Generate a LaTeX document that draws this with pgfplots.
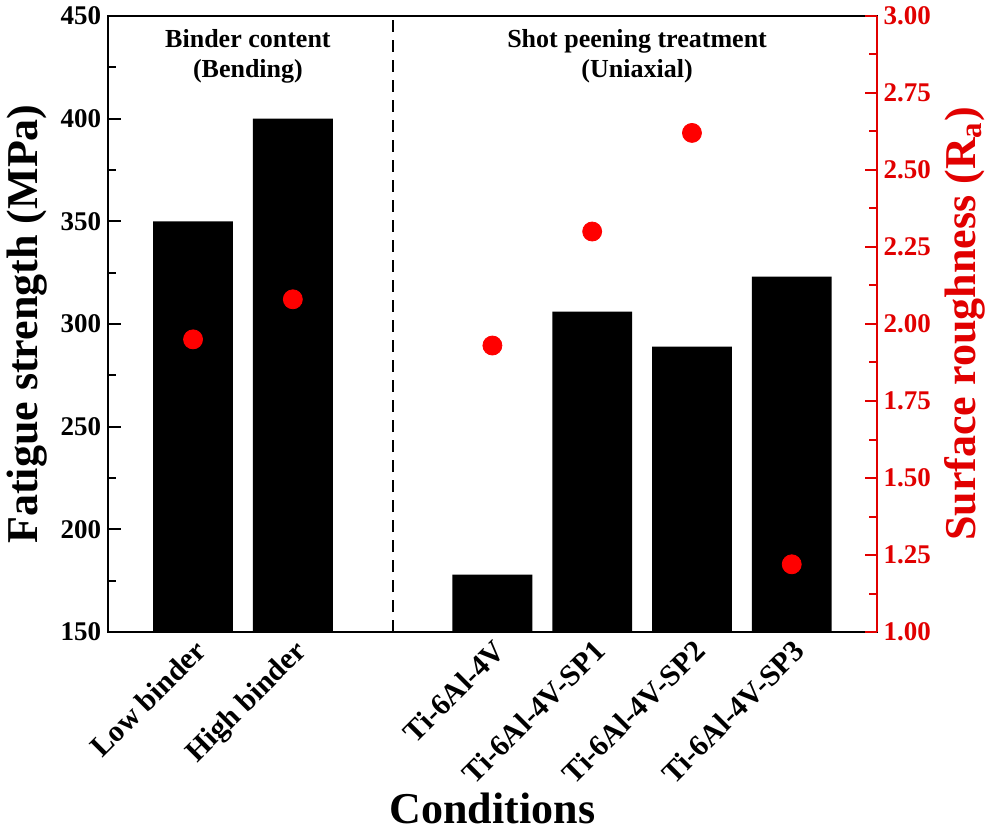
\documentclass[border=0pt]{standalone}
\usepackage{pgfplots}
\pgfplotsset{compat=1.18}
\usepackage{fontspec}
\setmainfont{Liberation Serif}
\definecolor{rd}{RGB}{225,0,0}
\begin{document}
\begin{tikzpicture}
\begin{axis}[
  scale only axis, width=384pt, height=308pt,
  xmin=-0.85, xmax=6.85, ymin=150, ymax=450,
  ytick={150,200,...,450}, minor y tick num=1, ytick pos=left,
  tick align=inside, major tick length=6.5pt, minor tick length=4pt,
  xtick={0,1,3,4,5,6},
  xticklabels={Low binder, High binder, Ti-6Al-4V, Ti-6Al-4V-SP1, Ti-6Al-4V-SP2, Ti-6Al-4V-SP3},
  x tick style={draw=none},
  xticklabel style={rotate=45, anchor=north east, font=\bfseries\fontsize{15}{16}\selectfont, inner sep=2pt},
  yticklabel style={font=\bfseries\fontsize{13.5}{15}\selectfont},
  /pgf/number format/assume math mode=true,
  ylabel={Fatigue strength (MPa)}, xlabel={Conditions},
  label style={font=\bfseries\fontsize{22}{24}\selectfont},
  xlabel style={yshift=3pt},
  axis line style={line width=1pt},
  tick style={line width=1pt, black},
  clip=true,
]
\addplot[ybar, bar width=0.8, fill=black, draw=none] coordinates {(0,350)(1,400)(3,178)(4,306)(5,289)(6,323)};
\addplot[dashed, line width=1pt, dash pattern=on 6pt off 4pt] coordinates {(2,150)(2,450)};
\node[anchor=north, align=center, font=\bfseries\fontsize{13}{15}\selectfont] at (axis cs:0.55,447) {Binder content\\(Bending)};
\node[anchor=north, align=center, font=\bfseries\fontsize{13}{15}\selectfont] at (axis cs:4.45,447) {Shot peening treatment\\(Uniaxial)};
\end{axis}
\begin{axis}[
  scale only axis, width=384pt, height=308pt,
  xmin=-0.85, xmax=6.85, ymin=1, ymax=3,
  axis y line*=right, axis x line=none,
  ytick={1,1.25,...,3}, minor y tick num=1,
  tick align=inside, major tick length=6pt, minor tick length=4pt,
  /pgf/number format/assume math mode=true,
  yticklabel style={font=\bfseries\fontsize{13.5}{15}\selectfont, text=rd, /pgf/number format/fixed, /pgf/number format/fixed zerofill, /pgf/number format/precision=2},
  y axis line style={draw=rd, line width=1pt},
  ytick style={draw=rd, line width=1pt},
  ylabel={Surface roughness (R\textsubscript{a})},
  ylabel style={font=\bfseries\fontsize{22}{24}\selectfont, text=rd},
]
\addplot[only marks, mark=*, mark size=4.75pt, color=red] coordinates {(0,1.95)(1,2.08)(3,1.93)(4,2.30)(5,2.62)(6,1.22)};
\end{axis}
\end{tikzpicture}
\end{document}
